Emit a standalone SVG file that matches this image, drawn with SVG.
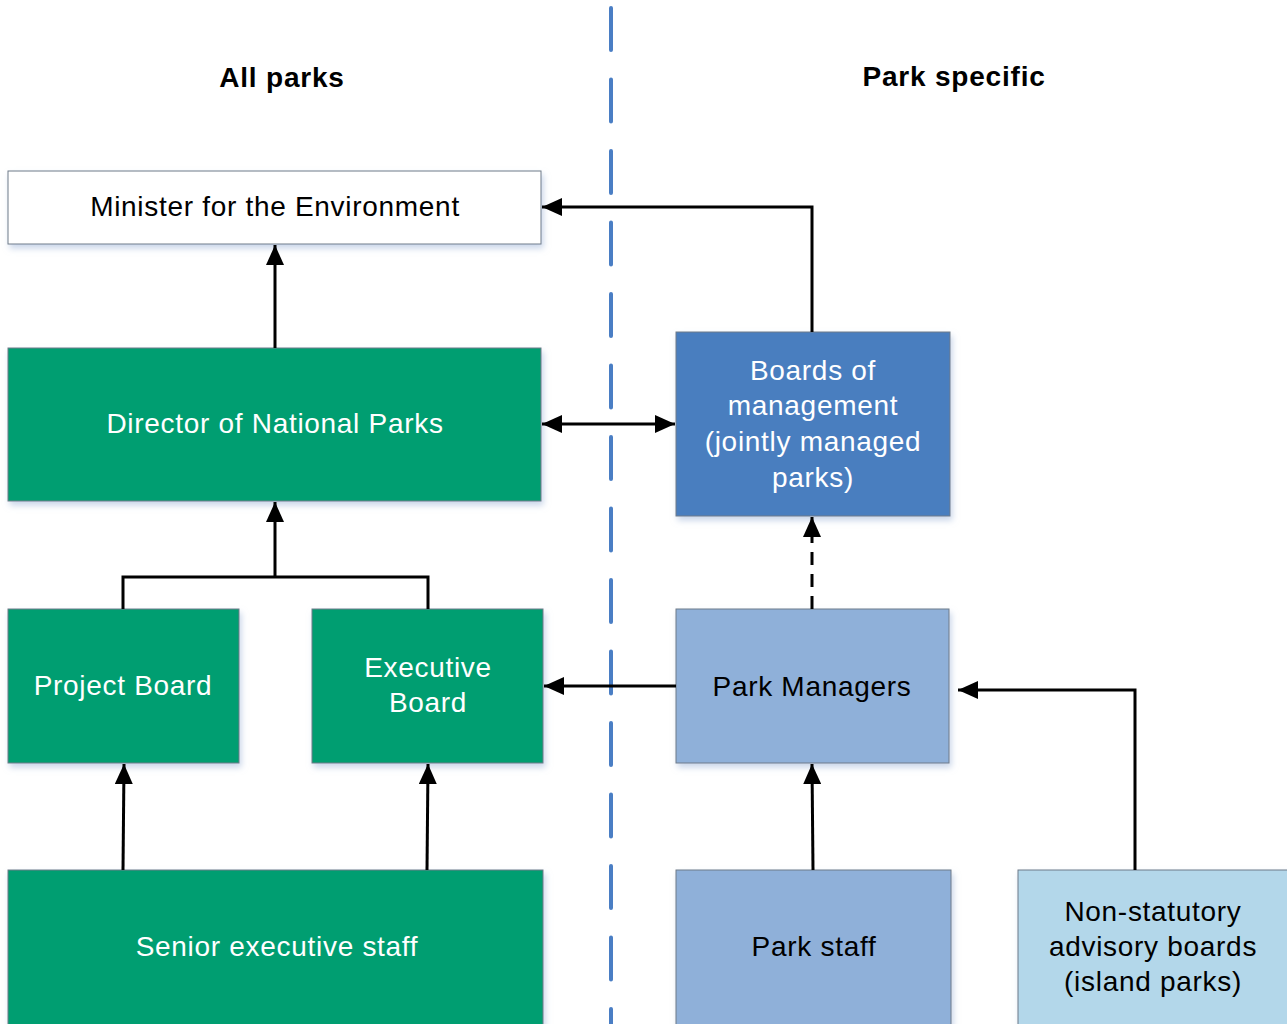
<svg xmlns="http://www.w3.org/2000/svg" width="1287" height="1024" viewBox="0 0 1287 1024">
  <style>
    .box { stroke: #6f7b88; stroke-width: 1; filter: url(#shadow); }
    .white { fill: #ffffff; }
    .green { fill: #009e71; }
    .blue { fill: #4a7ebf; }
    .light { fill: #8fb0d9; }
    .pale { fill: #b3d7ea; }
    .label { font-family: "Liberation Sans", Arial, sans-serif; font-size: 28px; letter-spacing: 0.7px; text-anchor: middle; }
    .onDark { fill: #ffffff; }
    .onLight { fill: #000000; }
    .head { font-family: "Liberation Sans", Arial, sans-serif; font-size: 28px; font-weight: bold; letter-spacing: 0.8px; text-anchor: middle; fill: #000; }
    .link { fill: none; stroke: #000; stroke-width: 3; }
  </style>
  <defs>
    <filter id="shadow" x="-10%" y="-10%" width="120%" height="130%">
      <feDropShadow dx="2" dy="4" stdDeviation="3" flood-color="#9fb4d8" flood-opacity="0.55"/>
    </filter>
    <marker id="arrow" markerUnits="userSpaceOnUse" markerWidth="20" markerHeight="18" refX="20" refY="9" orient="auto-start-reverse">
      <path d="M0,0 L20,9 L0,18 z" fill="#000"/>
    </marker>
  </defs>

  <rect width="1287" height="1024" fill="#ffffff"/>

  <!-- column headings -->
  <text class="head" x="282" y="87">All parks</text>
  <text class="head" x="954" y="86">Park specific</text>

  <!-- divider between the two columns -->
  <line x1="611" y1="8" x2="611" y2="1024" stroke="#4a7ec4" stroke-width="4" stroke-linecap="round" stroke-dasharray="42 29.5"/>

  <!-- nodes -->
  <g id="minister">
    <rect class="box white" x="8" y="171" width="533" height="73"/>
    <text class="label onLight" x="275" y="216">Minister for the Environment</text>
  </g>
  <g id="director">
    <rect class="box green" x="8" y="348" width="533" height="153"/>
    <text class="label onDark" x="275" y="433">Director of National Parks</text>
  </g>
  <g id="boards">
    <rect class="box blue" x="676" y="332" width="274" height="184"/>
    <text class="label onDark" x="813" y="380">Boards of</text>
    <text class="label onDark" x="813" y="415">management</text>
    <text class="label onDark" x="813" y="451">(jointly managed</text>
    <text class="label onDark" x="813" y="487">parks)</text>
  </g>
  <g id="project-board">
    <rect class="box green" x="8" y="609" width="231" height="154"/>
    <text class="label onDark" x="123" y="695">Project Board</text>
  </g>
  <g id="executive-board">
    <rect class="box green" x="312" y="609" width="231" height="154"/>
    <text class="label onDark" x="428" y="677">Executive</text>
    <text class="label onDark" x="428" y="712">Board</text>
  </g>
  <g id="park-managers">
    <rect class="box light" x="676" y="609" width="273" height="154"/>
    <text class="label onLight" x="812" y="696">Park Managers</text>
  </g>
  <g id="senior-executive">
    <rect class="box green" x="8" y="870" width="535" height="160"/>
    <text class="label onDark" x="277" y="956">Senior executive staff</text>
  </g>
  <g id="park-staff">
    <rect class="box light" x="676" y="870" width="275" height="160"/>
    <text class="label onLight" x="814" y="956">Park staff</text>
  </g>
  <g id="advisory-boards">
    <rect class="box pale" x="1018" y="870" width="275" height="160"/>
    <text class="label onLight" x="1153" y="921">Non-statutory</text>
    <text class="label onLight" x="1153" y="956">advisory boards</text>
    <text class="label onLight" x="1153" y="991">(island parks)</text>
  </g>

  <!-- connectors -->
  <g id="connectors">
    <line class="link" x1="275" y1="348" x2="275" y2="245" marker-end="url(#arrow)"/>
    <polyline class="link" points="812,332 812,207 542,207" marker-end="url(#arrow)"/>
    <line class="link" x1="542" y1="424" x2="675" y2="424" marker-start="url(#arrow)" marker-end="url(#arrow)"/>
    <polyline class="link" points="123,609 123,577 428,577 428,609"/>
    <line class="link" x1="275" y1="577" x2="275" y2="502" marker-end="url(#arrow)"/>
    <line class="link" x1="676" y1="686" x2="544" y2="686" marker-end="url(#arrow)"/>
    <line class="link" x1="812" y1="609" x2="812" y2="517" stroke-dasharray="13 9" marker-end="url(#arrow)"/>
    <line class="link" x1="813" y1="870" x2="812" y2="764" marker-end="url(#arrow)"/>
    <polyline class="link" points="1135,870 1135,690 958,690" marker-end="url(#arrow)"/>
    <line class="link" x1="123" y1="870" x2="124" y2="764" marker-end="url(#arrow)"/>
    <line class="link" x1="427" y1="870" x2="428" y2="764" marker-end="url(#arrow)"/>
  </g>
</svg>
